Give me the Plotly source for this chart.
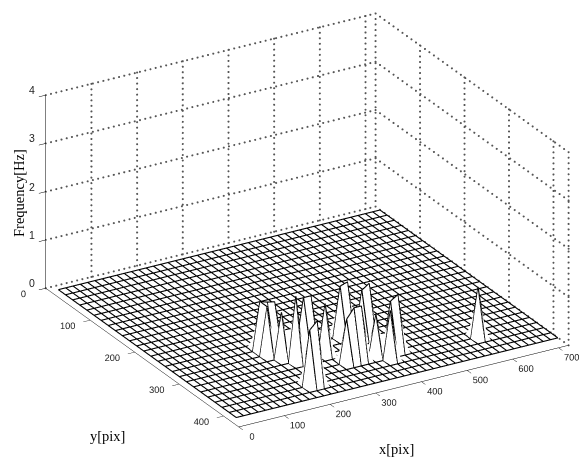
import numpy as np
import plotly.graph_objects as go

x_grid = np.arange(16, 721, 16)
y_grid = np.arange(12, 413, 16)

# spike positions: x[pix], y[pix], Frequency[Hz]
peak_x = [208, 224, 240, 208, 224, 240, 256, 288, 304, 304, 208, 224,
          368, 384, 416, 400, 320, 336, 352, 384, 416, 432, 400, 592]
peak_y = [268, 268, 268, 284, 300, 316, 300, 284, 284, 316, 380, 380,
          284, 284, 300, 300, 348, 348, 348, 348, 348, 348, 364, 364]
peak_z = [1.0, 0.95, 0.92, 1.0, 0.95, 1.35, 1.0, 1.0, 1.0, 1.05, 1.15, 1.3,
          1.05, 1.1, 1.1, 1.0, 0.9, 1.1, 1.1, 0.85, 1.05, 1.15, 1.0, 1.04]

x_ticks = [0, 100, 200, 300, 400, 500, 600, 700]
y_ticks = [0, 100, 200, 300, 400]
z_ticks = [0, 1, 2, 3, 4]
x_max, y_max, z_max = 722, 434, 4

z_grid = np.zeros((len(y_grid), len(x_grid)))
for px, py, pz in zip(peak_x, peak_y, peak_z):
    z_grid[list(y_grid).index(py), list(x_grid).index(px)] = pz

# mesh edges, drawn just above the white faces
mx, my, mz = [], [], []
lift = 0.012
for j, yv in enumerate(y_grid):
    mx += list(x_grid) + [None]
    my += [yv] * len(x_grid) + [None]
    mz += list(z_grid[j, :] + lift) + [None]
for i, xv in enumerate(x_grid):
    mx += [xv] * len(y_grid) + [None]
    my += list(y_grid) + [None]
    mz += list(z_grid[:, i] + lift) + [None]

# dotted wall grid
gx, gy, gz = [], [], []
def dotted(p0, p1, n):
    for t in np.linspace(0, 1, n):
        gx.append(p0[0] + t * (p1[0] - p0[0]))
        gy.append(p0[1] + t * (p1[1] - p0[1]))
        gz.append(p0[2] + t * (p1[2] - p0[2]))
for v in x_ticks[1:]:
    dotted((v, 0, 0), (v, 0, z_max), 36)
for v in y_ticks[1:]:
    dotted((x_max, v, 0), (x_max, v, z_max), 36)
dotted((x_max, y_max, 0), (x_max, y_max, z_max), 36)
dotted((x_max, 0, 0), (x_max, 0, z_max), 36)
for v in z_ticks:
    dotted((0, 0, v), (x_max, 0, v), 64)
    dotted((x_max, 0, v), (x_max, y_max, v), 44)

fig = go.Figure()
fig.add_trace(go.Surface(
    x=x_grid, y=y_grid, z=z_grid, showscale=False, hoverinfo="skip",
    colorscale=[[0, "white"], [1, "white"]],
    lighting=dict(ambient=1, diffuse=0, specular=0, roughness=1, fresnel=0),
    contours=dict(x=dict(highlight=False), y=dict(highlight=False), z=dict(highlight=False)),
))
fig.add_trace(go.Scatter3d(x=mx, y=my, z=mz, mode="lines", hoverinfo="skip",
                           line=dict(color="black", width=2.2), connectgaps=False))
fig.add_trace(go.Scatter3d(x=gx, y=gy, z=gz, mode="markers", hoverinfo="skip",
                           marker=dict(size=1.2, color="#555555", line=dict(width=0))))

tick_font = dict(family="Liberation Sans", size=10.5, color="#222222")
def axis(rng, ticks, **kw):
    return dict(range=rng, tickvals=ticks, ticktext=[str(t) for t in ticks], title=dict(text=""),
                showgrid=False, zeroline=False, showbackground=False, showline=True,
                linecolor="black", linewidth=1, ticks="outside", ticklen=8, tickcolor="black",
                tickwidth=1, tickangle=0, tickfont=tick_font, showspikes=False, **kw)

serif = dict(family="Liberation Serif", size=14.5, color="black")
cx, cy, cz = -0.0608, 0.0357, -0.0424
L = 2
fig.update_layout(
    width=582, height=458, margin=dict(l=0, r=0, t=0, b=0), paper_bgcolor="white",
    showlegend=False,
    scene=dict(
        domain=dict(x=[0, 1], y=[0, 1]),
        xaxis=axis([0, x_max], x_ticks),
        yaxis=axis([y_max, 0], y_ticks),
        zaxis=axis([0, z_max], z_ticks, showticklabels=False),
        aspectmode="manual", aspectratio=dict(x=1.67, y=1.665, z=0.93),
        camera=dict(projection=dict(type="orthographic"),
                    eye=dict(x=-0.459 * L + cx, y=-0.782 * L + cy, z=0.422 * L + cz),
                    center=dict(x=cx, y=cy, z=cz), up=dict(x=0, y=0, z=1)),
        annotations=[dict(x=0, y=0, z=v, text=str(v), showarrow=False, xshift=-14, yshift=5, font=tick_font)
                     for v in z_ticks],
    ),
    annotations=[
        dict(text="x[pix]", x=396 / 582, y=1 - 449 / 458, xref="paper", yref="paper", showarrow=False,
             xanchor="center", yanchor="middle", font=serif),
        dict(text="y[pix]", x=107 / 582, y=1 - 436 / 458, xref="paper", yref="paper", showarrow=False,
             xanchor="center", yanchor="middle", font=serif),
        dict(text="Frequency[Hz]", x=19 / 582, y=1 - 193 / 458, xref="paper", yref="paper", showarrow=False,
             xanchor="center", yanchor="middle", textangle=-90, font=serif),
    ],
)
fig.write_html("out.html", post_script="document.body.style.margin='0';", config={"displayModeBar": False})
